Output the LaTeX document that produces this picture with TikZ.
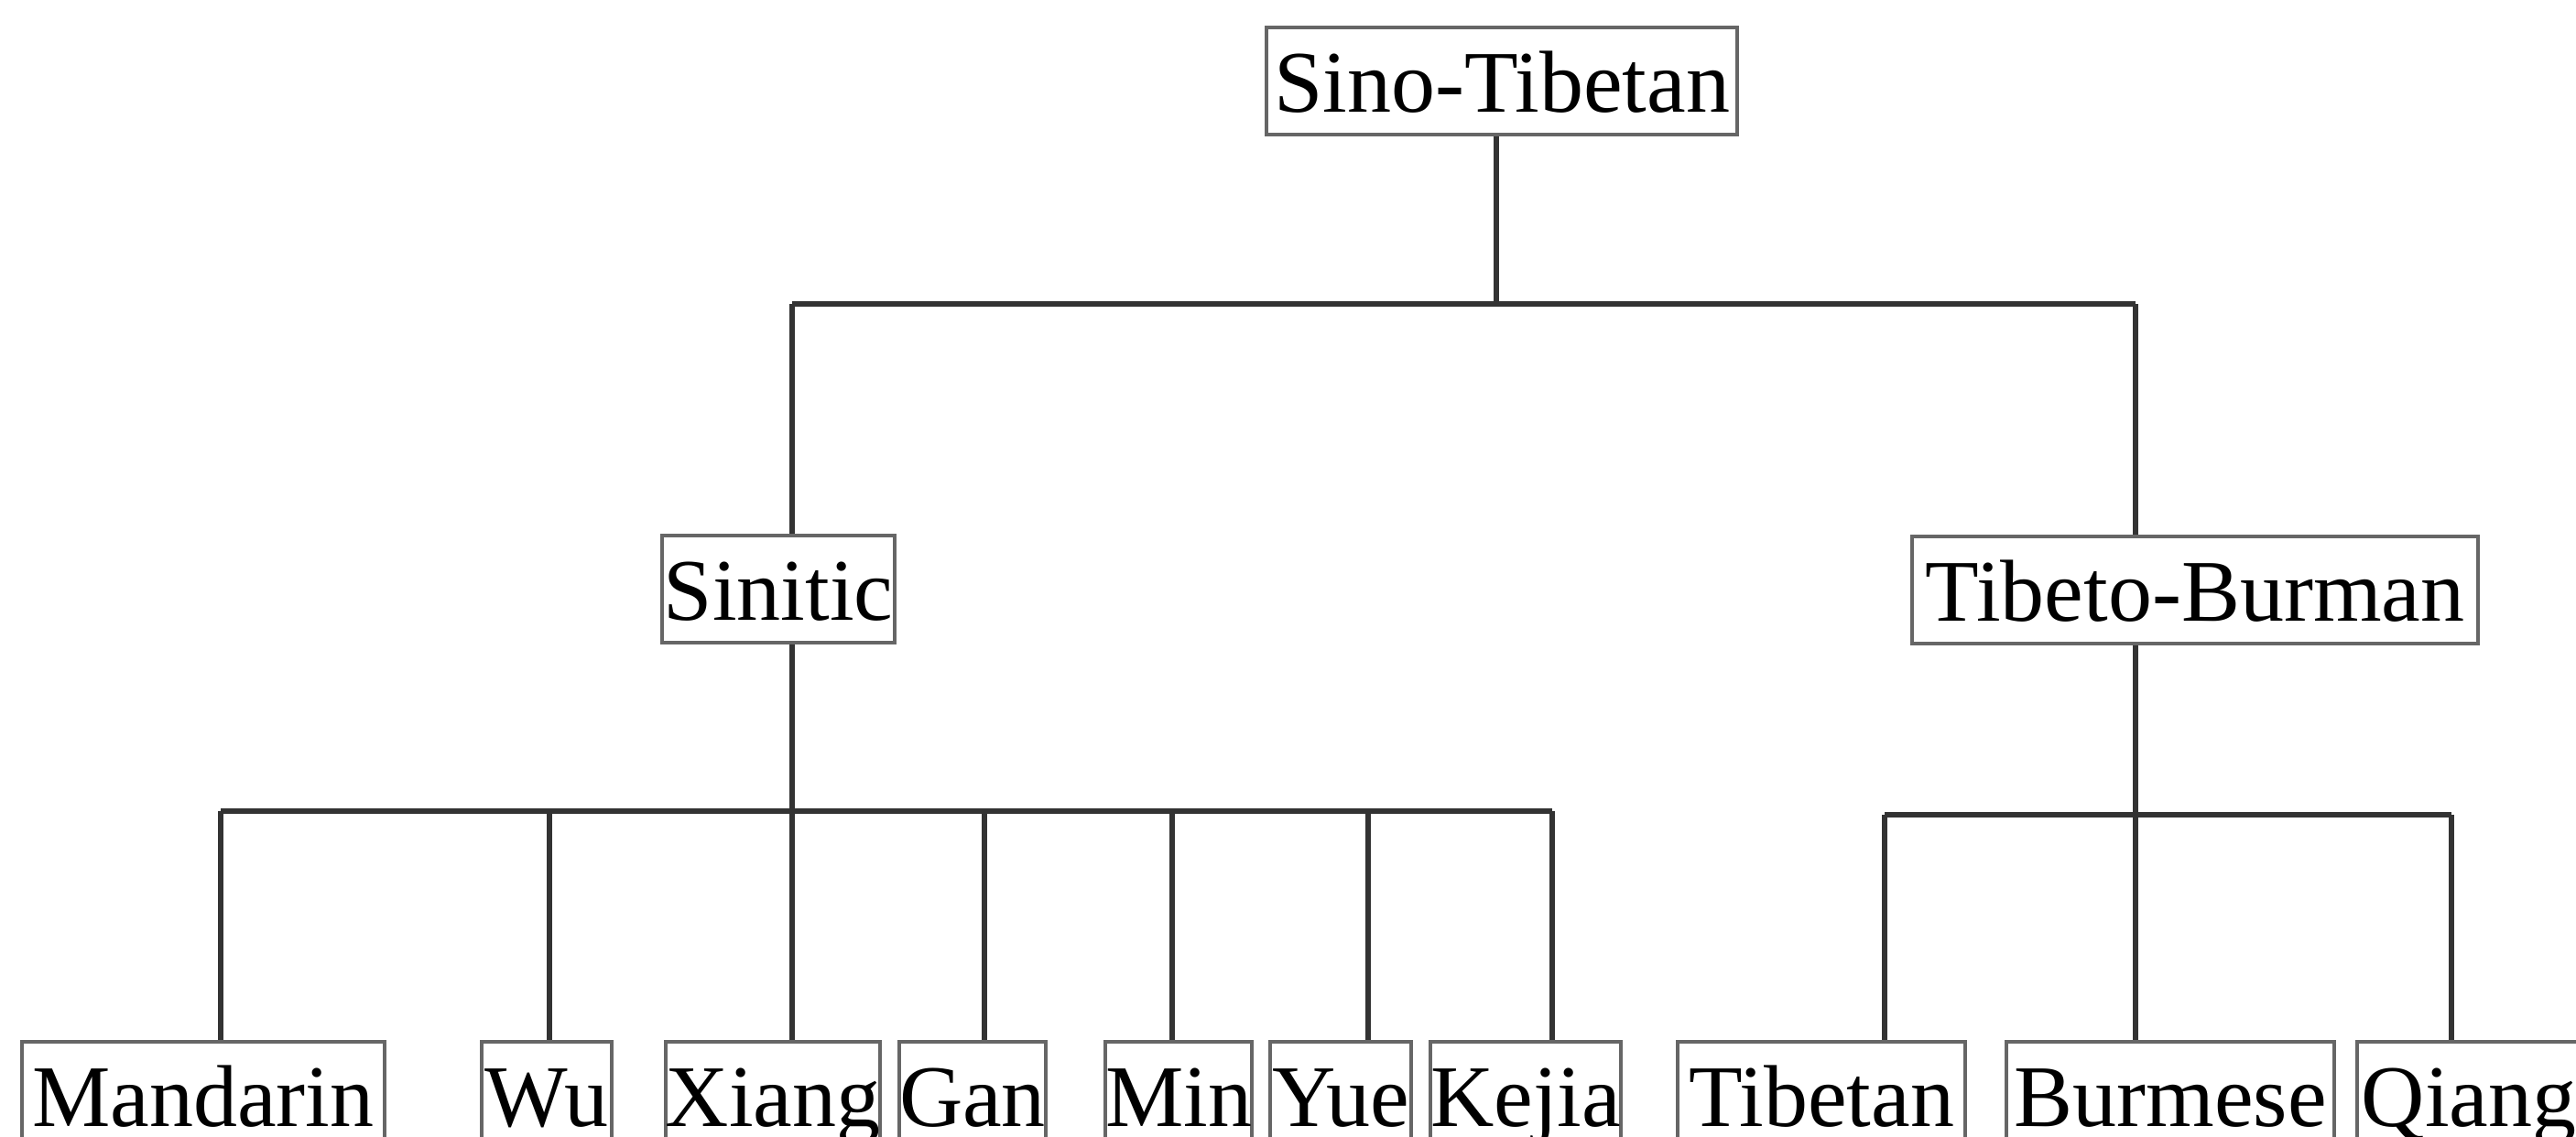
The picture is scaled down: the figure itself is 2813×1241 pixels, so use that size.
\documentclass[tikz,border=0pt]{standalone}
\usepackage{fontspec}
\setmainfont{Liberation Serif}
\begin{document}
\begin{tikzpicture}[x=0.01cm,y=-0.01cm,
  lang/.style={draw=black!60, line width=0.04cm, inner xsep=0pt, inner ysep=0pt,
    text height=0.92cm, text depth=0.25cm, anchor=base,
    font=\fontsize{27.3}{32}\selectfont},
  conn/.style={draw=black!80, line width=0.055cm}]
\useasboundingbox (0,0) rectangle (2813,1241);
% nodes
\node[lang, minimum width=5.14cm] (st)  at (1640,122) {Sino-Tibetan};
\node[lang, minimum width=2.53cm] (sin) at (850,677) {Sinitic};
\node[lang, minimum width=6.17cm] (tb)  at (2397,678) {Tibeto-Burman};
\node[lang, minimum width=3.95cm] (man) at (222,1230) {Mandarin};
\node[lang, minimum width=1.42cm] (wu)  at (597,1230) {Wu};
\node[lang, minimum width=2.28cm] (xia) at (844,1230) {Xiang};
\node[lang, minimum width=1.60cm] (gan) at (1062,1230) {Gan};
\node[lang, minimum width=1.58cm] (min) at (1287,1230) {Min};
\node[lang, minimum width=1.54cm] (yue) at (1464,1230) {Yue};
\node[lang, minimum width=2.04cm] (kej) at (1666,1230) {Kejia};
\node[lang, minimum width=3.14cm] (tib) at (1989,1230) {Tibetan};
\node[lang, minimum width=3.58cm] (bur) at (2370,1230) {Burmese};
\node[lang, minimum width=2.44cm] (qia) at (2696,1230) {Qiang};
% junctions
\coordinate (jt)  at (1634,332);
\coordinate (jtl) at (865,332);
\coordinate (jtr) at (2332,332);
\coordinate (js)  at (865,886);
\coordinate (sm)  at (241,886);
\coordinate (sw)  at (600,886);
\coordinate (sx)  at (865,886);
\coordinate (sg)  at (1075,886);
\coordinate (sn)  at (1280,886);
\coordinate (sy)  at (1494,886);
\coordinate (sk)  at (1695,886);
\coordinate (jb)  at (2332,890);
\coordinate (bt)  at (2058,890);
\coordinate (bb)  at (2332,890);
\coordinate (bq)  at (2677,890);
% top level
\draw[conn] (st.south -| jt) -- (jt);
\draw[conn] (jtl) -- (jtr);
\draw[conn] (jtl) -- (sin.north -| jtl);
\draw[conn] (jtr) -- (tb.north -| jtr);
% Sinitic
\draw[conn] (sin.south -| js) -- (js);
\draw[conn] (sm) -- (sk);
\draw[conn] (sm) -- (man.north -| sm);
\draw[conn] (sw) -- (wu.north -| sw);
\draw[conn] (sx) -- (xia.north -| sx);
\draw[conn] (sg) -- (gan.north -| sg);
\draw[conn] (sn) -- (min.north -| sn);
\draw[conn] (sy) -- (yue.north -| sy);
\draw[conn] (sk) -- (kej.north -| sk);
% Tibeto-Burman
\draw[conn] (tb.south -| jb) -- (jb);
\draw[conn] (bt) -- (bq);
\draw[conn] (bt) -- (tib.north -| bt);
\draw[conn] (bb) -- (bur.north -| bb);
\draw[conn] (bq) -- (qia.north -| bq);
\end{tikzpicture}
\end{document}
